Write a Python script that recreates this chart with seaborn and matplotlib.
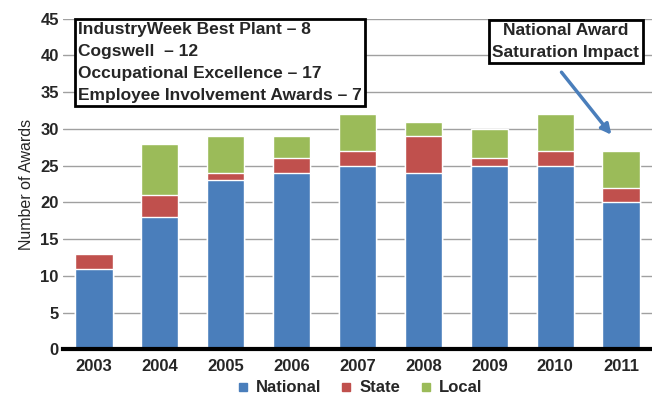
import numpy as np
import pandas as pd
import seaborn as sns
import matplotlib.pyplot as plt
from matplotlib.lines import Line2D

sns.set_theme(style="white")
plt.rcParams['font.family'] = ['Liberation Sans', 'DejaVu Sans']

# data
years = ['2003', '2004', '2005', '2006', '2007', '2008', '2009', '2010', '2011']
national = [11, 18, 23, 24, 25, 24, 25, 25, 20]
state = [2, 3, 1, 2, 2, 5, 1, 2, 2]
local = [0, 7, 5, 3, 5, 2, 4, 5, 5]

box_lines = ['IndustryWeek Best Plant \u2013 8',
             'Cogswell  \u2013 12',
             'Occupational Excellence \u2013 17',
             'Employee Involvement Awards \u2013 7']
note = 'National Award\nSaturation Impact'

c_nat = '#4a7ebb'
c_state = '#c0504d'
c_local = '#9bbb59'

df = pd.DataFrame({'year': years, 'national': national, 'state': state, 'local': local})
df['ns'] = df['national'] + df['state']
df['total'] = df['ns'] + df['local']

fig = plt.figure(figsize=(6.52, 4), dpi=100)
ax = fig.add_axes([63 / 652, 0.1265, 589 / 652, 0.827])

#stacked bars: draw the tallest layer first
bw = 0.566
sns.barplot(data=df, x='year', y='total', color=c_local, saturation=1, width=bw, ax=ax)
sns.barplot(data=df, x='year', y='ns', color=c_state, saturation=1, width=bw, ax=ax)
sns.barplot(data=df, x='year', y='national', color=c_nat, saturation=1, width=bw, ax=ax)

ax.set_xlim(-0.47, 8.47)
ax.set_ylim(0, 45)
ax.set_yticks(range(0, 46, 5))
ax.yaxis.grid(True, color='#a0a0a0', linewidth=1)
ax.set_axisbelow(True)
for s in ['top', 'right', 'left']:
    ax.spines[s].set_visible(False)
ax.spines['bottom'].set_color('black')
ax.spines['bottom'].set_linewidth(3)
ax.tick_params(axis='both', length=0, labelsize=12)
ax.tick_params(axis='y', pad=3)
ax.tick_params(axis='x', pad=7)
for lab in ax.get_xticklabels() + ax.get_yticklabels():
    lab.set_fontweight('bold')
ax.set_xlabel('')
ax.set_ylabel('Number of Awards', fontsize=11.5)
ax.yaxis.set_label_coords(-0.05, 0.5)

# text boxes
fig.text(78 / 652, 1 - 22 / 400, '\n'.join(box_lines), fontsize=12.5, fontweight='bold',
         va='top', ha='left', linespacing=1.58,
         bbox=dict(boxstyle='square,pad=0.2', fc='white', ec='black', lw=2))
fig.text(566 / 652, 1 - 23 / 400, note, fontsize=12.5, fontweight='bold',
         va='top', ha='center', linespacing=1.58,
         bbox=dict(boxstyle='square,pad=0.2', fc='white', ec='black', lw=2))

ax.annotate('', xy=(7.88, 28.9), xytext=(7.07, 38.0),
            arrowprops=dict(arrowstyle='-|>', color=c_nat, lw=2.5, mutation_scale=15))

handles = [Line2D([], [], marker='s', linestyle='', color=c, markersize=6)
           for c in [c_nat, c_state, c_local]]
leg = fig.legend(handles, ['National', 'State', 'Local'], loc='center',
                 bbox_to_anchor=(360 / 652, 1 - 388 / 400), ncol=3, frameon=False,
                 prop={'weight': 'bold', 'size': 12}, handletextpad=0.5,
                 columnspacing=1.2, handlelength=0.6)

fig.savefig('out.png', dpi=100)
